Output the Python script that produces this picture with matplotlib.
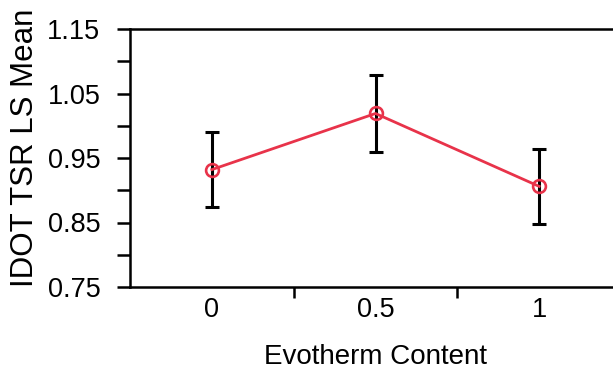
import matplotlib
matplotlib.use("Agg")
import matplotlib.pyplot as plt
from matplotlib.ticker import FixedLocator, NullFormatter

plt.rcParams['font.family'] = ['Liberation Sans', 'DejaVu Sans']

content = [0, 0.5, 1]
ls_mean = [0.932, 1.019, 0.906]
err = [0.058, 0.059, 0.058]
xtick_labels = ["0", "0.5", "1"]
ytick_vals = [0.75, 0.85, 0.95, 1.05, 1.15]
ytick_labels = ["0.75", "0.85", "0.95", "1.05", "1.15"]

W, H = 613, 370
fig = plt.figure(figsize=(W / 100, H / 100), dpi=100)
ax = fig.add_axes([130 / W, 1 - 287 / H, (621 - 130) / W, (287 - 29) / H])

ax.errorbar(content, ls_mean, yerr=err, fmt='none', ecolor='black',
            elinewidth=2.2, capsize=4.8, capthick=2.2, zorder=2)
ax.plot(content, ls_mean, color='#e8334a', lw=2.0, marker='o', ms=9.2,
        mfc='none', mec='#e8334a', mew=1.9, zorder=3)

ax.set_xlim(-0.25, 1.25)
ax.set_ylim(0.75, 1.15)

ax.set_xticks(content)
ax.set_xticklabels(xtick_labels)
ax.xaxis.set_minor_locator(FixedLocator([0.25, 0.75]))
ax.xaxis.set_minor_formatter(NullFormatter())
ax.tick_params(axis='x', which='major', length=0, pad=7, labelsize=19.5)
ax.tick_params(axis='x', which='minor', length=8, width=1.8, direction='out')

ax.set_yticks(ytick_vals)
ax.set_yticklabels(ytick_labels)
ax.yaxis.set_minor_locator(FixedLocator([0.80, 0.90, 1.00, 1.10]))
ax.yaxis.set_minor_formatter(NullFormatter())
ax.tick_params(axis='y', which='both', length=9.4, width=1.8, direction='out')
ax.tick_params(axis='y', which='major', pad=12, labelsize=19.5)

for s in ['left', 'top', 'bottom']:
    ax.spines[s].set_linewidth(1.8)
ax.spines['right'].set_visible(False)

fig.text(375 / W, 1 - 357 / H, "Evotherm Content", ha='center', va='center', fontsize=20)
fig.text(25 / W, 1 - 287 / H, "IDOT TSR LS Mean", rotation=90, ha='center', va='bottom', fontsize=22.5)

fig.savefig("out.png", dpi=100)
